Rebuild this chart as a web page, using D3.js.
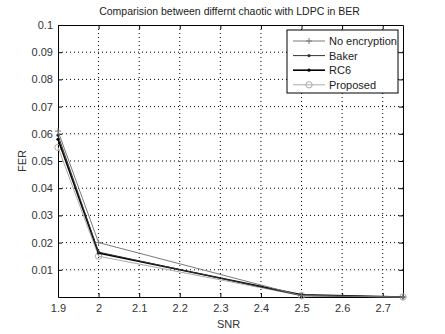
<!DOCTYPE html>
<html>
<head>
<meta charset="utf-8">
<script src="https://cdn.jsdelivr.net/npm/d3@7"></script>
<style>
body { margin: 0; background: #fff; }
text { font-family: "Liberation Sans", Arial, sans-serif; }
</style>
</head>
<body>
<script>
var snr = [1.9, 2, 2.5, 2.75];
var noEncryption = [0.061, 0.020, 0.0005, 0];
var baker = [0.0595, 0.0165, 0.0005, 0];
var rc6 = [0.058, 0.0162, 0.0008, 0];
var proposed = [0.055, 0.015, 0.0005, 0];
var xTicks = [1.9, 2, 2.1, 2.2, 2.3, 2.4, 2.5, 2.6, 2.7];
var yTicks = [0.01, 0.02, 0.03, 0.04, 0.05, 0.06, 0.07, 0.08, 0.09, 0.1];

var series = [
  { name: 'No encryption', values: noEncryption, color: '#7a7a7a', width: 1, marker: 'plus' },
  { name: 'Baker', values: baker, color: '#333', width: 1, marker: 'dot' },
  { name: 'RC6', values: rc6, color: '#000', width: 1.6, marker: 'dot' },
  { name: 'Proposed', values: proposed, color: '#ababab', width: 1, marker: 'circle' }
];

var margin = {top: 25, left: 58, bottom: 37, right: 42};
var width = 445 - margin.left - margin.right;
var height = 334 - margin.top - margin.bottom;

var svg = d3.select("body").append("svg")
  .attr("width", 445)
  .attr("height", 334)
  .append("g")
  .attr("transform", "translate(" + margin.left + "," + margin.top + ")");

var x = d3.scaleLinear().domain([1.9, 2.75]).range([0, width]);
var y = d3.scaleLinear().domain([0, 0.1]).range([height, 0]);

// grid
svg.append("g").selectAll("line").data(xTicks.slice(1)).enter().append("line")
  .attr("x1", function(d) { return x(d); }).attr("x2", function(d) { return x(d); })
  .attr("y1", 0).attr("y2", height)
  .attr("stroke", "#000").attr("stroke-width", 1).attr("stroke-dasharray", "1,3");
svg.append("g").selectAll("line").data(yTicks.slice(0, -1)).enter().append("line")
  .attr("x1", 0).attr("x2", width)
  .attr("y1", function(d) { return y(d); }).attr("y2", function(d) { return y(d); })
  .attr("stroke", "#000").attr("stroke-width", 1).attr("stroke-dasharray", "1,3");

// axes
svg.append("g")
  .attr("transform", "translate(0," + height + ")")
  .call(d3.axisBottom(x).tickValues(xTicks).tickSizeInner(-4).tickSizeOuter(0).tickPadding(7)
    .tickFormat(d3.format("")));
svg.append("g")
  .call(d3.axisLeft(y).tickValues(yTicks).tickSizeInner(-4).tickSizeOuter(0).tickPadding(5)
    .tickFormat(function(d) { return d3.format("")(+d.toFixed(2)); }));
svg.append("g")
  .attr("transform", "translate(" + width + ",0)")
  .call(d3.axisRight(y).tickValues(yTicks).tickSizeInner(-4).tickSizeOuter(0).tickFormat(""));
svg.append("g")
  .call(d3.axisTop(x).tickValues(xTicks).tickSizeInner(-4).tickSizeOuter(0).tickFormat(""));
svg.selectAll(".domain").attr("stroke", "#000");
svg.selectAll(".tick line").attr("stroke", "#000");
svg.selectAll(".tick text").attr("font-size", 11).attr("fill", "#333")
  .style("font-family", "'Liberation Sans', Arial, sans-serif");

// lines
var line = d3.line()
  .x(function(d, i) { return x(snr[i]); })
  .y(function(d) { return y(d); });

function drawMarker(g, type, color, px, py) {
  if (type === 'plus') {
    g.append("path").attr("d", "M" + (px - 3) + "," + py + "h6M" + px + "," + (py - 3) + "v6")
      .attr("stroke", color).attr("stroke-width", 1).attr("fill", "none");
  } else if (type === 'dot') {
    g.append("circle").attr("cx", px).attr("cy", py).attr("r", 1.6).attr("fill", color);
  } else {
    g.append("circle").attr("cx", px).attr("cy", py).attr("r", 3.2)
      .attr("fill", "none").attr("stroke", color).attr("stroke-width", 1);
  }
}

series.slice().reverse().forEach(function(s) {
  svg.append("path").datum(s.values)
    .attr("d", line)
    .attr("fill", "none")
    .attr("stroke", s.color)
    .attr("stroke-width", s.width);
  var mg = svg.append("g");
  s.values.forEach(function(v, i) {
    drawMarker(mg, s.marker, s.color, x(snr[i]), y(v));
  });
});

// legend
var legend = svg.append("g").attr("transform", "translate(" + (287 - margin.left) + "," + (30 - margin.top) + ")");
legend.append("rect").attr("width", 111).attr("height", 63)
  .attr("fill", "#fff").attr("stroke", "#000").attr("stroke-width", 1);
series.forEach(function(s, i) {
  var ly = 11 + i * 14.6;
  legend.append("line").attr("x1", 6).attr("x2", 38).attr("y1", ly).attr("y2", ly)
    .attr("stroke", s.color).attr("stroke-width", s.width);
  drawMarker(legend, s.marker, s.color, 22, ly);
  legend.append("text").attr("x", 42).attr("y", ly + 4)
    .attr("font-size", 11).attr("fill", "#222").text(s.name);
});

// titles
svg.append("text").attr("x", width / 2 - 1).attr("y", -10)
  .attr("text-anchor", "middle").attr("font-size", 10.5).attr("fill", "#222")
  .text("Comparision between differnt chaotic with LDPC in BER");
svg.append("text").attr("x", width / 2 - 2).attr("y", height + 31)
  .attr("text-anchor", "middle").attr("font-size", 11).attr("fill", "#333").text("SNR");
svg.append("text").attr("transform", "translate(-32," + (height / 2) + ") rotate(-90)")
  .attr("text-anchor", "middle").attr("font-size", 11).attr("fill", "#333").text("FER");
</script>
</body>
</html>
